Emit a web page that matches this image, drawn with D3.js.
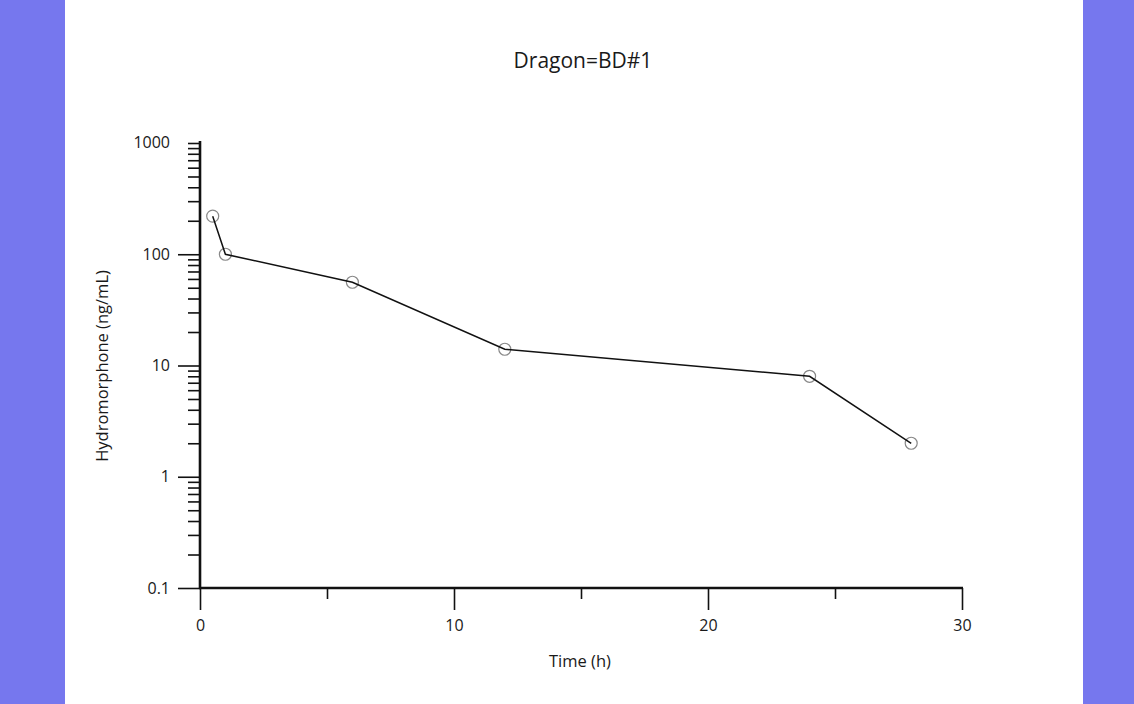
<!DOCTYPE html>
<html>
<head>
<meta charset="utf-8">
<script src="https://cdn.jsdelivr.net/npm/d3@7"></script>
<style>
  body { margin: 0; background: #7677ee; }
  svg { display: block; }
  .tick text { font-family: "Open Sans", "Noto Sans", sans-serif; font-size: 16px; fill: #1a1a1a; }
</style>
</head>
<body>
<div id="chart"></div>
<script>
// sample times (h) and concentrations (ng/mL)
const times = [0.5, 1, 6, 12, 24, 28];
const conc = [220, 100, 56, 14, 8, 2];

const xTicks = [0, 10, 20, 30];
const xMinorTicks = [5, 15, 25];
const yTicks = [0.1, 1, 10, 100, 1000];
const yTickLabels = ["0.1", "1", "10", "100", "1000"];

const title = "Dragon=BD#1";
const xTitle = "Time (h)";
const yTitle = "Hydromorphone (ng/mL)";

const width = 1134, height = 704;
const font = "\"Open Sans\", \"Noto Sans\", sans-serif";

let svg = d3.select("#chart").append("svg")
    .attr("width", width).attr("height", height);

// white page over the blue backdrop
svg.append("rect")
    .attr("x", 65).attr("y", 0)
    .attr("width", 1018).attr("height", height)
    .attr("fill", "#fff");

let x = d3.scaleLinear().domain([0, 30]).range([200, 962]);
let y = d3.scaleLog().domain([0.1, 1000]).range([588, 143]);

// minor y ticks 2..9 per decade
let yMinor = [];
for (let d = 0.1; d < 1000; d *= 10) {
    for (let k = 2; k <= 9; k++) yMinor.push(+(d * k).toPrecision(3));
}

// y minor ticks
svg.append("g")
    .attr("transform", "translate(200,0)")
    .call(d3.axisLeft(y).tickValues(yMinor.concat([1000])).tickSize(12).tickFormat(""))
    .call(g => g.select(".domain").remove())
    .call(g => g.selectAll("line").attr("stroke", "#111").attr("stroke-width", 1.6));

// y major ticks
svg.append("g")
    .attr("transform", "translate(200,0)")
    .call(d3.axisLeft(y).tickValues(yTicks.slice(0, 4)).tickSize(22).tickPadding(8)
          .tickFormat((d, i) => yTickLabels[i]))
    .call(g => g.select(".domain").remove())
    .call(g => g.selectAll("line").attr("stroke", "#111").attr("stroke-width", 1.6));

svg.append("text")
    .attr("x", 170).attr("y", y(1000))
    .attr("dy", "0.32em")
    .attr("text-anchor", "end")
    .style("font-family", font)
    .style("font-size", "16px").attr("fill", "#1a1a1a")
    .text(yTickLabels[4]);

// x minor ticks
svg.append("g")
    .attr("transform", "translate(0,588)")
    .call(d3.axisBottom(x).tickValues(xMinorTicks).tickSize(11).tickFormat(""))
    .call(g => g.select(".domain").remove())
    .call(g => g.selectAll("line").attr("stroke", "#111").attr("stroke-width", 1.6));

// x major ticks
svg.append("g")
    .attr("transform", "translate(0,588)")
    .call(d3.axisBottom(x).tickValues(xTicks).tickSize(22).tickPadding(10).tickFormat(d3.format("d")))
    .call(g => g.select(".domain").remove())
    .call(g => g.selectAll("line").attr("stroke", "#111").attr("stroke-width", 1.6));

// axis lines
svg.append("line")
    .attr("x1", 200).attr("x2", 200)
    .attr("y1", y(1000) - 2).attr("y2", 589)
    .attr("stroke", "#111").attr("stroke-width", 2.6);
svg.append("line")
    .attr("x1", 199).attr("x2", 963)
    .attr("y1", 588).attr("y2", 588)
    .attr("stroke", "#111").attr("stroke-width", 2.6);

// markers
let pts = times.map((t, i) => ({ t: t, c: conc[i] }));

svg.append("g").selectAll("circle")
    .data(pts)
    .join("circle")
    .attr("cx", d => x(d.t))
    .attr("cy", d => y(d.c))
    .attr("r", 6)
    .attr("fill", "none")
    .attr("stroke", "#888")
    .attr("stroke-width", 1.2);

// line
svg.append("path")
    .datum(pts)
    .attr("fill", "none")
    .attr("stroke", "#111")
    .attr("stroke-width", 1.5)
    .attr("d", d3.line().x(d => x(d.t)).y(d => y(d.c)));

// titles
svg.append("text")
    .attr("x", 583).attr("y", 68)
    .attr("text-anchor", "middle")
    .style("font-family", font)
    .style("font-size", "21px").attr("fill", "#1a1a1a")
    .text(title);

svg.append("text")
    .attr("x", 580).attr("y", 667)
    .attr("text-anchor", "middle")
    .style("font-family", font)
    .style("font-size", "16.5px").attr("fill", "#1a1a1a")
    .text(xTitle);

svg.append("text")
    .attr("transform", "translate(108,366) rotate(-90)")
    .attr("text-anchor", "middle")
    .style("font-family", font)
    .style("font-size", "16.5px").attr("fill", "#1a1a1a")
    .text(yTitle);
</script>
</body>
</html>
